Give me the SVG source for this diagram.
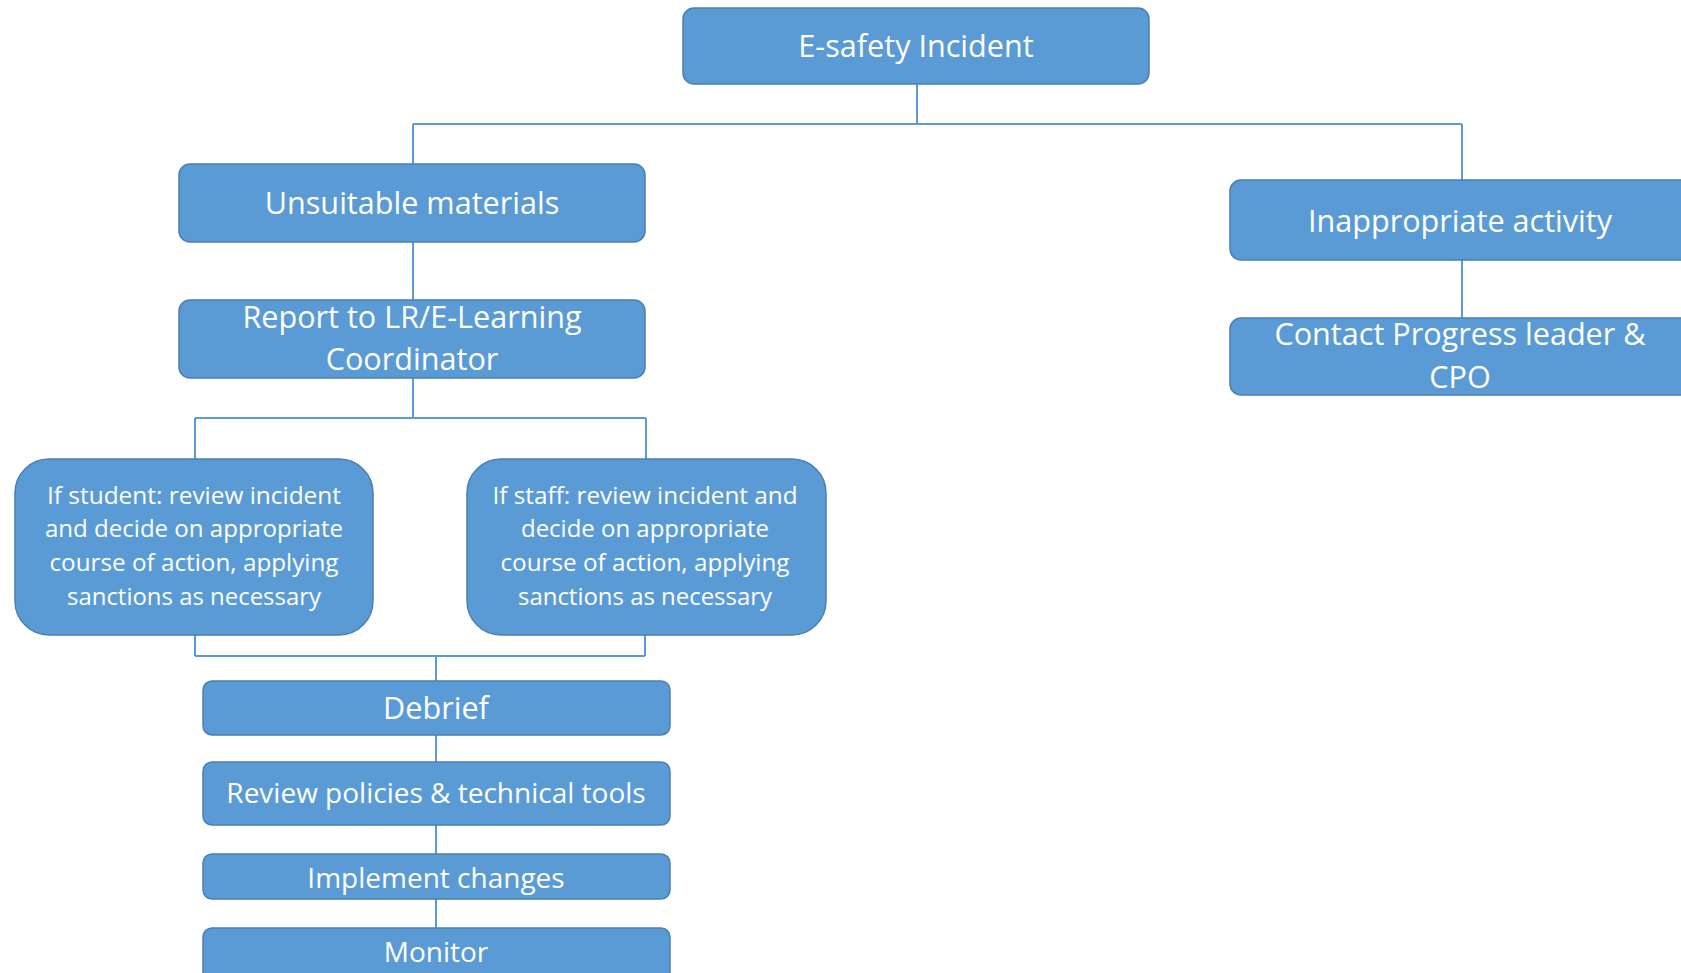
<svg xmlns="http://www.w3.org/2000/svg" width="1681" height="973" viewBox="0 0 1681 973">
<style>
.box{fill:#5B9BD5;stroke:#4B7FB3;stroke-width:1.5}
.t{fill:#FFFFFF;font-family:"Open Sans","Liberation Sans",sans-serif;text-anchor:middle}
.big{font-size:30.6px}
.mid{font-size:28px}
.sm{font-size:23px}
.c{fill:none;stroke:#5B9BD5;stroke-width:2}
</style>
<rect width="1681" height="973" fill="#FFFFFF"/>
<g id="connectors">
<path class="c" d="M917,84 V124 M413,124 H1462 M413,124 V164 M1462,124 V180"/>
<path class="c" d="M413,242 V300"/>
<path class="c" d="M1462,260 V318"/>
<path class="c" d="M413,378 V418 M195,418 H646 M195,418 V459 M646,418 V459"/>
<path class="c" d="M195,635 V656 M645,635 V656 M195,656 H645 M436,656 V681"/>
<path class="c" d="M436,735 V762 M436,825 V854 M436,899 V928"/>
</g>
<g id="n-esafety">
<rect class="box" x="683" y="8" width="466" height="76" rx="11"/>
<text class="t big" x="916" y="57">E-safety Incident</text>
</g>
<g id="n-unsuitable">
<rect class="box" x="179" y="164" width="466" height="78" rx="11"/>
<text class="t big" x="412" y="214">Unsuitable materials</text>
</g>
<g id="n-report">
<rect class="box" x="179" y="300" width="466" height="78" rx="11"/>
<text class="t big" x="412" y="328">Report to LR/E-Learning</text>
<text class="t big" x="412" y="370">Coordinator</text>
</g>
<g id="n-inappropriate">
<rect class="box" x="1230" y="180" width="480" height="80" rx="11"/>
<text class="t big" x="1460" y="232">Inappropriate activity</text>
</g>
<g id="n-contact">
<rect class="box" x="1230" y="318" width="480" height="77" rx="11"/>
<text class="t big" x="1460" y="345">Contact Progress leader &amp;</text>
<text class="t big" x="1460" y="388">CPO</text>
</g>
<g id="n-student">
<rect class="box" x="15" y="459" width="358" height="176" rx="34"/>
<text class="t sm" x="194" y="504" textLength="294" lengthAdjust="spacingAndGlyphs">If student: review incident</text>
<text class="t sm" x="194" y="537" textLength="298" lengthAdjust="spacingAndGlyphs">and decide on appropriate</text>
<text class="t sm" x="194" y="571" textLength="289" lengthAdjust="spacingAndGlyphs">course of action, applying</text>
<text class="t sm" x="194" y="605" textLength="254" lengthAdjust="spacingAndGlyphs">sanctions as necessary</text>
</g>
<g id="n-staff">
<rect class="box" x="467" y="459" width="359" height="176" rx="34"/>
<text class="t sm" x="645" y="504" textLength="305" lengthAdjust="spacingAndGlyphs">If staff: review incident and</text>
<text class="t sm" x="645" y="537" textLength="248" lengthAdjust="spacingAndGlyphs">decide on appropriate</text>
<text class="t sm" x="645" y="571" textLength="289" lengthAdjust="spacingAndGlyphs">course of action, applying</text>
<text class="t sm" x="645" y="605" textLength="254" lengthAdjust="spacingAndGlyphs">sanctions as necessary</text>
</g>
<g id="n-debrief">
<rect class="box" x="203" y="681" width="467" height="54" rx="9"/>
<text class="t big" x="436" y="719">Debrief</text>
</g>
<g id="n-review">
<rect class="box" x="203" y="762" width="467" height="63" rx="9"/>
<text class="t mid" x="436" y="803">Review policies &amp; technical tools</text>
</g>
<g id="n-implement">
<rect class="box" x="203" y="854" width="467" height="45" rx="9"/>
<text class="t mid" x="436" y="888">Implement changes</text>
</g>
<g id="n-monitor">
<rect class="box" x="203" y="928" width="467" height="60" rx="9"/>
<text class="t mid" x="436" y="962">Monitor</text>
</g>
</svg>
